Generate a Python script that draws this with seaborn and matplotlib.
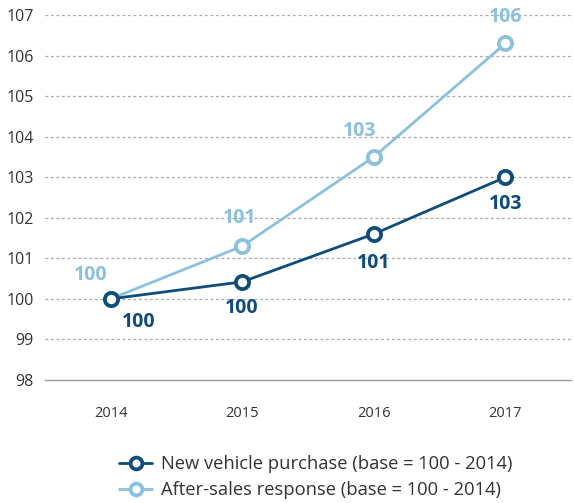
import numpy as np
import pandas as pd
import matplotlib
matplotlib.use('Agg')
import matplotlib.pyplot as plt
import seaborn as sns

years = ['2014', '2015', '2016', '2017']
new_vehicle = [100.0, 100.42, 101.6, 103.0]
after_sales = [100.0, 101.3, 103.5, 106.3]
new_labels = ['100', '100', '101', '103']
after_labels = ['100', '101', '103', '106']
series_names = ['New vehicle purchase (base = 100 - 2014)',
                'After-sales response (base = 100 - 2014)']

DARK = '#0e4c7a'
LIGHT = '#8bc1dc'

sns.set_style('white')
plt.rcParams['font.family'] = ['Open Sans', 'DejaVu Sans']

df = pd.DataFrame({
    'year': years * 2,
    'value': new_vehicle + after_sales,
    'series': [series_names[0]] * 4 + [series_names[1]] * 4,
})
df['x'] = df.groupby('series').cumcount()

fig = plt.figure(figsize=(5.74, 5.03), dpi=100)
ax = fig.add_axes([0.078, 0.2446, 0.917, 0.7254])

sns.lineplot(data=df, x='x', y='value', hue='series', hue_order=series_names[::-1],
             palette={series_names[0]: DARK, series_names[1]: LIGHT},
             marker='o', markersize=9.5, markerfacecolor='white', markeredgewidth=2.7,
             linewidth=2.0, ax=ax, legend=False)
# make marker edges match line colours
for line in ax.get_lines():
    line.set_markeredgecolor(line.get_color())

ax.set_xlim(-0.5, 3.5)
ax.set_ylim(98, 107)
ax.set_xticks(range(len(years)))
ax.set_xticklabels(years)
ax.set_yticks(range(98, 108))
ax.tick_params(axis='x', labelsize=10.5, colors='#333333', length=0, pad=19)
ax.tick_params(axis='y', labelsize=11.5, colors='#333333', length=0, pad=8)
ax.set_xlabel('')
ax.set_ylabel('')

for yv in range(99, 108):
    ax.axhline(yv, color='#a8a8a8', linestyle=(0, (2.2, 2.2)), linewidth=0.9, zorder=0)
for s in ['top', 'right', 'left']:
    ax.spines[s].set_visible(False)
ax.spines['bottom'].set_color('#999999')
ax.spines['bottom'].set_linewidth(1.0)

new_off = [(20, -17), (0, -19), (0, -21), (0, -19)]
after_off = [(-14, 17), (-2, 20), (-10, 19), (0, 19)]
for i in range(len(years)):
    ax.annotate(new_labels[i], (i, new_vehicle[i]), xytext=new_off[i], textcoords='offset points',
                ha='center', va='center', fontsize=14, fontweight='bold', color=DARK, zorder=5)
    ax.annotate(after_labels[i], (i, after_sales[i]), xytext=after_off[i], textcoords='offset points',
                ha='center', va='center', fontsize=14, fontweight='bold', color=LIGHT, zorder=5)

handles = [plt.Line2D([], [], color=c, marker='o', markersize=8.5, markerfacecolor='white',
                      markeredgewidth=2.7, markeredgecolor=c, linewidth=2.0)
           for c in (DARK, LIGHT)]
fig.legend(handles, series_names, loc='upper left', bbox_to_anchor=(0.195, 0.11),
           frameon=False, fontsize=13.2, labelcolor='#333333', handlelength=1.8,
           handletextpad=0.5, labelspacing=0.45, borderaxespad=0)

fig.savefig('out.png', dpi=100)
